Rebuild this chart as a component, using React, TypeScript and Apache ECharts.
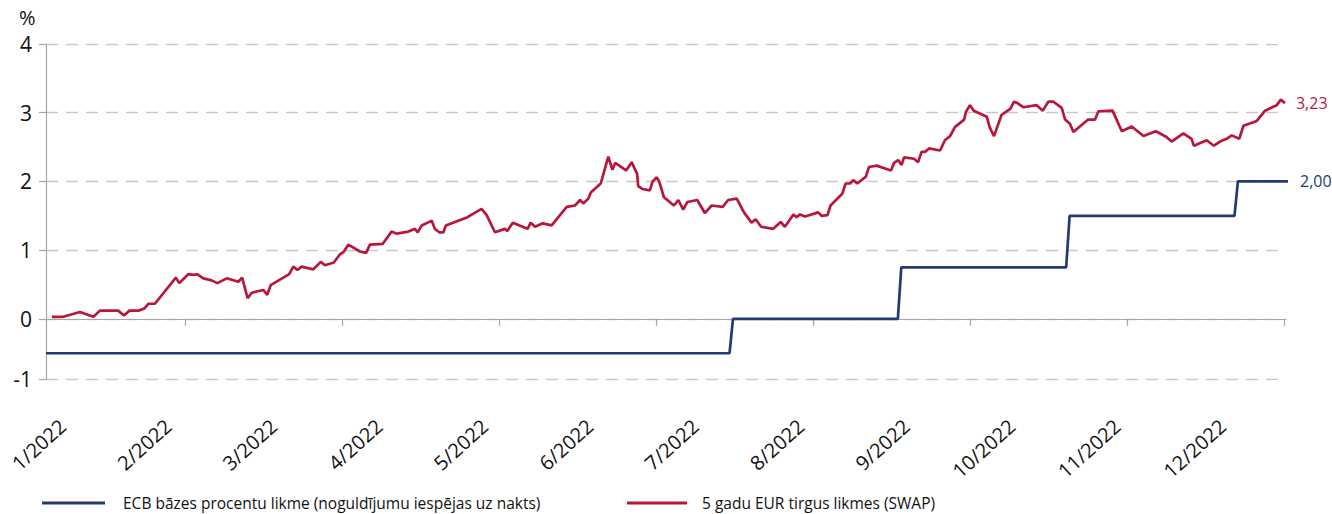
import React, { useEffect, useRef } from "react";
import * as echarts from "echarts";

// ---- data ----
// day of year 2022 (1 Jan = 0) for SWAP readings
const swapDay = [
  2.7, 6.0, 10.9, 14.8, 16.7, 22.0, 23.7, 25.3, 27.9, 29.6, 30.8, 32.7, 38.8, 39.8, 42.4, 43.9, 45.0, 46.8, 49.2, 50.9,
  53.6, 57.0, 58.1, 59.7, 60.9, 64.3, 65.4, 66.4, 71.8, 73.0, 74.2, 75.4, 78.8, 81.0, 82.2, 84.8, 86.6, 87.6, 89.0,
  92.4, 94.2, 95.3, 99.0, 101.6, 103.1, 106.5, 108.4, 109.2, 110.4, 113.3, 114.2, 115.5, 116.7, 117.4, 123.7, 127.8,
  129.3, 131.7, 134.6, 135.3, 136.9, 141.2, 142.1, 143.4, 145.6, 148.2, 152.6, 155.0, 156.5, 157.4, 158.9, 159.6,
  162.5, 164.7, 165.9, 166.7, 169.9, 171.5, 173.1, 173.4, 174.6, 176.8, 177.6, 178.8, 179.5, 180.9, 183.8, 185.1,
  186.5, 187.7, 190.6, 192.8, 194.8, 198.0, 199.6, 202.1, 204.2, 206.4, 207.6, 209.2, 212.7, 214.9, 216.1, 218.6,
  219.5, 220.5, 222.0, 225.8, 226.8, 228.5, 229.4, 232.8, 233.8, 235.1, 236.0, 237.2, 239.7, 240.6, 242.8, 247.0,
  247.9, 249.1, 250.1, 250.8, 253.7, 254.9, 255.9, 256.9, 258.1, 261.3, 262.7, 264.2, 265.6, 268.3, 268.8, 270.0,
  271.1, 274.9, 275.8, 277.0, 279.2, 281.8, 282.8, 283.8, 285.5, 289.4, 291.2, 292.8, 294.3, 296.7, 297.7, 299.1,
  300.1, 304.4, 306.4, 307.4, 311.5, 314.2, 317.1, 320.5, 324.1, 327.1, 328.7, 332.1, 334.5, 335.2, 338.9, 341.0,
  342.8, 344.7, 346.2, 348.4, 349.6, 353.5, 355.9, 359.3, 360.5, 361.7,
];
const swapRate = [
  0.03, 0.03, 0.10, 0.03, 0.12, 0.12, 0.05, 0.12, 0.12, 0.15, 0.22, 0.22, 0.60, 0.52, 0.65, 0.64, 0.65, 0.59, 0.56, 0.52,
  0.59, 0.54, 0.60, 0.30, 0.38, 0.42, 0.35, 0.49, 0.65, 0.76, 0.71, 0.76, 0.72, 0.83, 0.78, 0.82, 0.94, 0.97, 1.08,
  0.98, 0.96, 1.08, 1.09, 1.27, 1.24, 1.27, 1.31, 1.26, 1.36, 1.43, 1.31, 1.26, 1.26, 1.36, 1.48, 1.60,
  1.51, 1.26, 1.31, 1.28, 1.40, 1.31, 1.40, 1.34, 1.39, 1.36, 1.63, 1.65, 1.73, 1.68, 1.75, 1.84,
  1.97, 2.36, 2.17, 2.27, 2.16, 2.28, 2.11, 1.93, 1.89, 1.87, 2.00, 2.06, 2.00, 1.77, 1.65, 1.73,
  1.59, 1.70, 1.73, 1.54, 1.65, 1.63, 1.73, 1.75, 1.55, 1.40, 1.45, 1.34, 1.31, 1.41, 1.34, 1.52,
  1.48, 1.52, 1.49, 1.55, 1.50, 1.51, 1.65, 1.82, 1.97, 1.97, 2.02, 1.97, 2.07, 2.21, 2.23, 2.16,
  2.27, 2.31, 2.24, 2.35, 2.33, 2.28, 2.43, 2.43, 2.48, 2.45, 2.60, 2.66, 2.79, 2.90, 3.01, 3.11,
  3.03, 2.94, 2.78, 2.66, 2.97, 3.06, 3.16, 3.14, 3.08, 3.11, 3.03, 3.16, 3.16, 3.07, 2.90, 2.84,
  2.72, 2.90, 2.90, 3.02, 3.03, 2.73, 2.80, 2.66, 2.73, 2.65, 2.58, 2.70, 2.62, 2.52, 2.60, 2.52,
  2.58, 2.62, 2.67, 2.62, 2.81, 2.88, 3.03, 3.11, 3.19, 3.14,
];

const ecbDates = [
  "2022-01-02", "2022-07-20", "2022-07-21", "2022-09-07", "2022-09-08",
  "2022-10-26", "2022-10-27", "2022-12-14", "2022-12-15", "2022-12-30",
];
const ecbRate = [-0.5, -0.5, 0, 0, 0.75, 0.75, 1.5, 1.5, 2.0, 2.0];

const monthLabels = [
  "1/2022", "2/2022", "3/2022", "4/2022", "5/2022", "6/2022",
  "7/2022", "8/2022", "9/2022", "10/2022", "11/2022", "12/2022",
];
const monthLabelDay = [5.9, 36.6, 67.3, 98.0, 128.7, 159.4, 190.1, 220.8, 251.5, 282.2, 312.9, 343.6];
const xTickDay = [41.5, 87.2, 132.9, 178.6, 224.3, 270.0, 315.7, 361.4];

const yTicks = [-0.875, 0, 1, 2, 3, 4];
const yTickLabels = ["-1", "0", "1", "2", "3", "4"];

const seriesNames = [
  "ECB bāzes procentu likme (noguldījumu iespējas uz nakts)",
  "5 gadu EUR tirgus likmes (SWAP)",
];
const endLabels = ["2,00", "3,23"];

const NAVY = "#223B72";
const RED = "#B8173B";
const FONT = "Open Sans";

const doy = (s: string) => {
  const [y, m, d] = s.split("-").map(Number);
  return (Date.UTC(y, m - 1, d) - Date.UTC(2022, 0, 1)) / 864e5;
};

export default function App() {
  const ref = useRef<HTMLDivElement>(null);
  useEffect(() => {
    if (!ref.current) return;
    const chart = echarts.init(ref.current, null, { renderer: "svg" });
    const ecbData = ecbDates.map((d, i) => [doy(d), ecbRate[i]]);
    const swapData = swapDay.map((d, i) => [d, swapRate[i]]);
    const axisGray = "#A6A6A6";
    chart.setOption({
      animation: false,
      textStyle: { fontFamily: FONT },
      grid: { left: 46, right: 46, top: 44, bottom: 135, containLabel: false },
      xAxis: [
        {
          type: "value",
          min: 1,
          max: 362,
          position: "bottom",
          axisLine: { show: true, onZero: true, lineStyle: { color: axisGray, width: 1.2 } },
          axisTick: { show: true, length: 7, customValues: xTickDay, lineStyle: { color: axisGray, width: 1.2 } },
          axisLabel: { show: false },
          splitLine: { show: false },
        },
        {
          type: "value",
          min: 1,
          max: 362,
          position: "bottom",
          axisLine: { show: false, onZero: false },
          axisTick: { show: false },
          splitLine: { show: false },
          axisLabel: {
            customValues: monthLabelDay,
            rotate: 42,
            margin: 44,
            fontSize: 20,
            color: "#111",
            fontFamily: FONT,
            formatter: (v: number) => {
              let best = 0;
              monthLabelDay.forEach((d, i) => {
                if (Math.abs(d - v) < Math.abs(monthLabelDay[best] - v)) best = i;
              });
              return monthLabels[best];
            },
          },
        },
      ],
      yAxis: {
        type: "value",
        min: -0.875,
        max: 4,
        axisLine: { show: true, lineStyle: { color: axisGray, width: 1.2 } },
        axisTick: { show: true, length: 7, customValues: yTicks, lineStyle: { color: axisGray, width: 1.2 } },
        axisLabel: {
          customValues: yTicks,
          margin: 14,
          fontSize: 21,
          color: "#111",
          fontFamily: FONT,
          formatter: (v: number) => {
            const i = yTicks.findIndex((t) => Math.abs(t - v) < 1e-6);
            return i >= 0 ? yTickLabels[i] : "";
          },
        },
        splitLine: { show: true, lineStyle: { color: "#C8C8C8", width: 1.3, type: [12, 8] } },
      },
      legend: [
        {
          data: [seriesNames[0]],
          left: 42,
          top: 495,
          padding: 0,
          icon: "rect",
          itemWidth: 63,
          itemHeight: 3,
          textStyle: { fontSize: 15.5, color: "#111", fontFamily: FONT, padding: [0, 0, 0, 13] },
        },
        {
          data: [seriesNames[1]],
          left: 627,
          top: 495,
          padding: 0,
          icon: "rect",
          itemWidth: 60,
          itemHeight: 3,
          textStyle: { fontSize: 15.5, color: "#111", fontFamily: FONT, padding: [0, 0, 0, 10] },
        },
      ],
      graphic: [
        {
          type: "text",
          left: 19,
          top: 7,
          style: { text: "%", fontSize: 20, fill: "#111", fontFamily: FONT },
        },
      ],
      series: [
        {
          name: seriesNames[0],
          type: "line",
          data: ecbData,
          showSymbol: false,
          symbol: "none",
          clip: false,
          lineStyle: { color: NAVY, width: 2.7 },
          itemStyle: { color: NAVY },
          endLabel: {
            show: true,
            formatter: () => endLabels[0],
            color: NAVY,
            fontSize: 16,
            distance: 12,
            fontFamily: FONT,
          },
          z: 3,
        },
        {
          name: seriesNames[1],
          type: "line",
          data: swapData,
          showSymbol: false,
          symbol: "none",
          lineStyle: { color: RED, width: 2.7 },
          itemStyle: { color: RED },
          endLabel: {
            show: true,
            formatter: () => endLabels[1],
            color: RED,
            fontSize: 16,
            distance: 11,
            fontFamily: FONT,
          },
          z: 4,
        },
      ],
    });
    return () => chart.dispose();
  }, []);
  return (
    <div
      ref={ref}
      style={{ position: "fixed", left: 0, top: 0, width: 1332, height: 514, background: "#fff" }}
    />
  );
}
